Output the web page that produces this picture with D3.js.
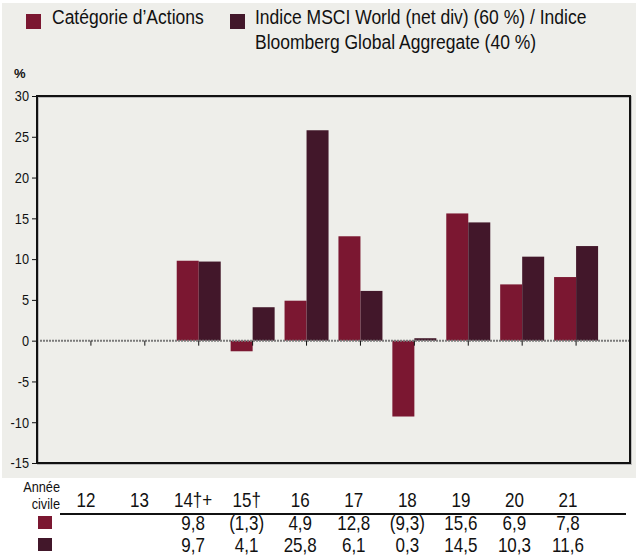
<!DOCTYPE html>
<html>
<head>
<meta charset="utf-8">
<script src="https://cdn.jsdelivr.net/npm/d3@7"></script>
<style>
  body { margin: 0; background: #fff; }
  svg text { font-family: "Liberation Sans", Arial, sans-serif; fill: #111; }
</style>
</head>
<body>
<div id="chart"></div>
<script>
'use strict';

// data
var years = ['12', '13', '14', '15', '16', '17', '18', '19', '20', '21'];
var yearLabels = ['12', '13', '14†+', '15†', '16', '17', '18', '19', '20', '21'];
var fundValues = [null, null, 9.8, -1.3, 4.9, 12.8, -9.3, 15.6, 6.9, 7.8];
var indexValues = [null, null, 9.7, 4.1, 25.8, 6.1, 0.3, 14.5, 10.3, 11.6];
var seriesNames = ['Catégorie d’Actions', 'Indice MSCI World (net div) (60 %) / Indice', 'Bloomberg Global Aggregate (40 %)'];
var yTicks = [-15, -10, -5, 0, 5, 10, 15, 20, 25, 30];

var colors = ['#7b1731', '#42172a'];
var width = 638;
var height = 555;

// the source font is a condensed sans, squeeze the text horizontally
var narrow = 0.85;
var condense = function(sel) {
    sel.each(function() {
        var t = d3.select(this);
        var x0 = +t.attr('x') || 0;
        t.attr('x', x0 / narrow).attr('transform', 'scale(' + narrow + ',1)');
    });
};

var svg = d3.select('#chart').append('svg')
    .attr('width', width)
    .attr('height', height);

svg.append('rect')
    .attr('x', 2).attr('y', 3)
    .attr('width', 634).attr('height', 475)
    .attr('fill', '#eeeeea');

var plot = {left: 37, right: 630, top: 96, bottom: 463};

var x = d3.scalePoint()
    .domain(years)
    .range([plot.left, plot.right])
    .padding(1);

var y = d3.scaleLinear()
    .domain([-15, 30])
    .range([plot.bottom, plot.top]);

var barW = 22;

// legend
var legend = svg.append('g');
legend.append('rect').attr('x', 26).attr('y', 14).attr('width', 15).attr('height', 15).attr('fill', colors[0]);
legend.append('text').attr('x', 52).attr('y', 24).style('font-size', '20.6px').text(seriesNames[0]);
legend.append('rect').attr('x', 230).attr('y', 14).attr('width', 15).attr('height', 15).attr('fill', colors[1]);
legend.append('text').attr('x', 255).attr('y', 24).style('font-size', '20.6px').text(seriesNames[1]);
legend.append('text').attr('x', 255).attr('y', 49).style('font-size', '20.6px').text(seriesNames[2]);
condense(legend.selectAll('text'));

svg.append('text')
    .attr('x', 14).attr('y', 78)
    .style('font-size', '13px')
    .style('font-weight', 'bold')
    .text('%');

// y axis
var yAxis = d3.axisLeft(y)
    .tickValues(yTicks)
    .tickSize(5)
    .tickPadding(3)
    .tickFormat(function(d) { return d < 0 ? '-' + Math.abs(d) : '' + d; });

var yg = svg.append('g')
    .attr('transform', 'translate(' + plot.left + ',0)')
    .call(yAxis);
yg.select('.domain').remove();
yg.selectAll('text').style('font-size', '15px').attr('fill', '#111');
yg.selectAll('line').attr('stroke', '#111');
condense(yg.selectAll('text'));

// bars
var bars = svg.append('g');
bars.selectAll('rect.fund')
    .data(years.map(function(d, i) { return {year: d, value: fundValues[i]}; })
        .filter(function(d) { return d.value !== null; }))
    .enter().append('rect')
    .attr('class', 'fund')
    .attr('x', function(d) { return x(d.year) - barW; })
    .attr('y', function(d) { return y(Math.max(0, d.value)); })
    .attr('width', barW)
    .attr('height', function(d) { return Math.abs(y(d.value) - y(0)); })
    .attr('fill', colors[0]);

bars.selectAll('rect.index')
    .data(years.map(function(d, i) { return {year: d, value: indexValues[i]}; })
        .filter(function(d) { return d.value !== null; }))
    .enter().append('rect')
    .attr('class', 'index')
    .attr('x', function(d) { return x(d.year); })
    .attr('y', function(d) { return y(Math.max(0, d.value)); })
    .attr('width', barW)
    .attr('height', function(d) { return Math.abs(y(d.value) - y(0)); })
    .attr('fill', colors[1]);

// zero line and category ticks
svg.append('line')
    .attr('x1', plot.left).attr('x2', plot.right)
    .attr('y1', y(0)).attr('y2', y(0))
    .attr('stroke', '#7a7a7a')
    .attr('stroke-width', 2)
    .attr('stroke-dasharray', '2,1');

svg.selectAll('line.cat')
    .data(years)
    .enter().append('line')
    .attr('class', 'cat')
    .attr('x1', function(d) { return x(d); })
    .attr('x2', function(d) { return x(d); })
    .attr('y1', y(0))
    .attr('y2', y(0) + 5)
    .attr('stroke', '#111');

// frame
svg.append('rect')
    .attr('x', plot.left + 1).attr('y', plot.top + 1)
    .attr('width', plot.right - plot.left).attr('height', plot.bottom - plot.top)
    .attr('fill', 'none')
    .attr('stroke', '#bbb')
    .attr('stroke-width', 2);
svg.append('rect')
    .attr('x', plot.left).attr('y', plot.top)
    .attr('width', plot.right - plot.left).attr('height', plot.bottom - plot.top)
    .attr('fill', 'none')
    .attr('stroke', '#111')
    .attr('stroke-width', 2);

// data table under the chart
var tx = d3.scalePoint()
    .domain(years)
    .range([86, 568]);

var table = svg.append('g');
table.append('text').attr('x', 60).attr('y', 492).attr('text-anchor', 'end').style('font-size', '15px').text('Année');
table.append('text').attr('x', 60).attr('y', 509).attr('text-anchor', 'end').style('font-size', '15px').text('civile');

table.selectAll('text.year')
    .data(years)
    .enter().append('text')
    .attr('class', 'year')
    .attr('x', function(d) { return tx(d); })
    .attr('y', 507)
    .attr('text-anchor', 'middle')
    .style('font-size', '20px')
    .text(function(d, i) { return yearLabels[i]; });

table.append('line')
    .attr('x1', 60).attr('x2', 626)
    .attr('y1', 514).attr('y2', 514)
    .attr('stroke', '#111')
    .attr('stroke-width', 2);

var fmt = function(v) {
    if (v === null) return '';
    var s = d3.format('.1f')(Math.abs(v)).replace('.', ',');
    return v < 0 ? '(' + s + ')' : s;
};

[fundValues, indexValues].forEach(function(values, r) {
    var rowY = 530 + r * 22;
    table.append('rect')
        .attr('x', 38).attr('y', rowY - 14)
        .attr('width', 14).attr('height', 13)
        .attr('fill', colors[r]);
    table.selectAll('text.row' + r)
        .data(years)
        .enter().append('text')
        .attr('class', 'row' + r)
        .attr('x', function(d) { return tx(d); })
        .attr('y', rowY)
        .attr('text-anchor', 'middle')
        .style('font-size', '20px')
        .text(function(d, i) { return fmt(values[i]); });
});
condense(table.selectAll('text'));
</script>
</body>
</html>
